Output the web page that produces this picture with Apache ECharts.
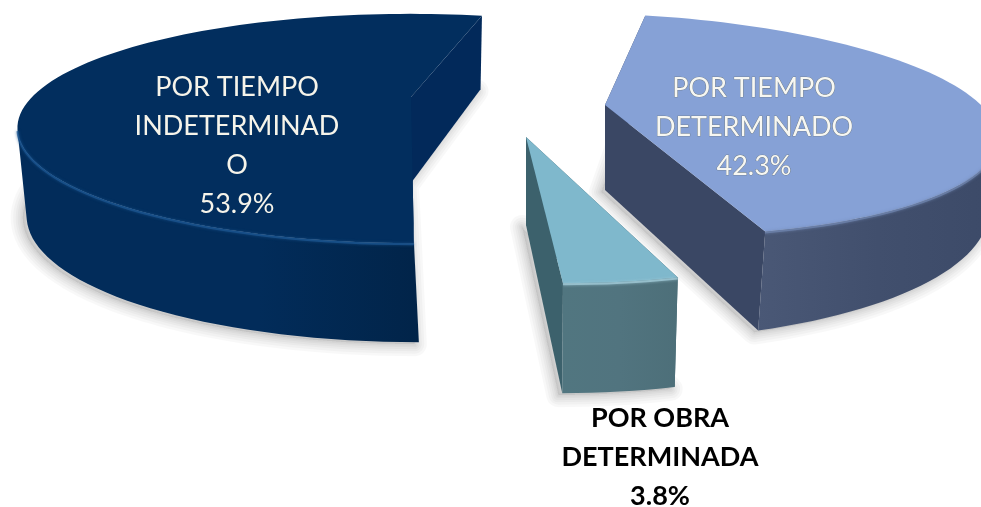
<!DOCTYPE html>
<html>
<head>
<meta charset="utf-8">
<style>html,body{margin:0;padding:0;background:#fff}#c{width:981px;height:507px}</style>
<script src="https://cdn.jsdelivr.net/npm/echarts@6/dist/echarts.min.js"></script>
</head>
<body>
<div id="c"></div>
<script>
const categories = ['POR TIEMPO\nINDETERMINAD\nO', 'POR TIEMPO\nDETERMINADO', 'POR OBRA\nDETERMINADA'];
const values = [53.9, 42.3, 3.8];
const startAngle = 90;

// per-slice drawing of the perspective pie (layout only; spans come from values)
const layouts = [
  {ax:411, ay:97,  rx:379, ry:106, p:.275, k:.02, d0:86, d1:13, d2:0,   bs:.02, bv:5,
   top:'#022e5e', cut:'#02295a', rim:[['#022c5a',0],['#022c5a',.6],['#012449',1]], hi:'#1c5590',
   text:'#f6f4ea', stroke:null, weight:400, lx:237, ly:146},
  {ax:605, ay:105, rx:376, ry:108, p:.175, k:.42, d0:85, d1:18.8, d2:-17.7, bs:.02, bv:-4,
   top:'#86a1d6', cut:'#3a4764', rim:[['#4a5876',0],['#414f6d',.5],['#3c4a68',1]], hi:'#6f84ad',
   text:'#f7f7f2', stroke:'rgba(80,80,50,.6)', weight:400, lx:754, ly:127},
  {ax:526, ay:137, rx:360, ry:106, p:.275, k:.253,d0:88, d1:22, d2:0,   bs:.02, bv:0,
   top:'#7fb8cc', cut:'#3c616c', rim:[['#517680',0],['#51747f',.5],['#4d6f79',1]], hi:'#a3ccd9',
   text:'#000000', stroke:null, weight:700, lx:660, ly:457}
];
const shadowWidths = [24, 19, 14, 10, 6, 3];

const total = values.reduce((a, b) => a + b, 0);
const starts = [];
values.reduce((acc, v, i) => { starts[i] = acc; return acc + v / total * 360; }, startAngle);

function topPoint(l, deg) {
  const t = deg * Math.PI / 180, u = Math.cos(t), v = Math.sin(t), s = 1 / (1 - l.p * v);
  const dy = l.ry * v * s;
  return {x: l.ax + l.rx * u * s + l.k * dy, y: l.ay + dy, u: u, v: v};
}
function lowerPoint(l, pt) {
  return [pt.x + l.bs * (l.ax - pt.x) + l.bv * Math.max(pt.v, 0),
          pt.y + l.d0 + l.d1 * pt.v + l.d2 * pt.u];
}
function renderItem(params, api) {
  const i = params.dataIndex, l = layouts[i];
  const a0 = starts[i], span = api.value(0) / total * 360;
  const arc = [];
  const n = Math.max(8, Math.ceil(span / 2));
  for (let j = 0; j <= n; j++) arc.push(topPoint(l, a0 + span * j / n));
  const apex = {x: l.ax, y: l.ay, u: 0, v: 0};
  const first = arc[0], last = arc[n];

  const visibleArc = arc.filter(pt => pt.v >= l.p);
  const rimPts = visibleArc.map(pt => [pt.x, pt.y]).concat(visibleArc.slice().reverse().map(pt => lowerPoint(l, pt)));
  const grad = new echarts.graphic.LinearGradient(0, 0, 1, 0, l.rim.map(c => ({offset: c[1], color: c[0]})));
  const wall = (a, b) => [[a.x, a.y], [b.x, b.y], lowerPoint(l, b), lowerPoint(l, a)];
  const base = [lowerPoint(l, apex)].concat(arc.map(pt => lowerPoint(l, pt)));

  const shadowLayers = shadowWidths.map(w => ({
    type: 'polygon', x: -4, y: 2, shape: {points: base},
    style: {fill: 'rgba(0,0,0,.01)', stroke: 'rgba(0,0,0,.028)', lineWidth: w, lineJoin: 'round'}
  }));
  const children = shadowLayers.concat([
    {type: 'polygon', shape: {points: wall(apex, first)}, style: {fill: l.cut}},
    {type: 'polygon', shape: {points: wall(apex, last)},  style: {fill: l.cut}},
    {type: 'polygon', shape: {points: rimPts}, style: {fill: grad}},
    {type: 'polygon', shape: {points: [[apex.x, apex.y]].concat(arc.map(pt => [pt.x, pt.y]))}, style: {fill: l.top}},
    {type: 'polyline', shape: {points: visibleArc.map(pt => [pt.x, pt.y + 1])},
     style: {fill: null, stroke: l.hi, lineWidth: 2, opacity: .75, shadowBlur: 3, shadowColor: l.hi}},
    {type: 'text', style: {
      text: api.value(1) + '\n' + api.value(0).toFixed(1) + '%',
      x: l.lx, y: l.ly, align: 'center', verticalAlign: 'middle',
      fill: l.text, stroke: l.stroke, lineWidth: l.stroke ? .7 : 0,
      fontFamily: 'Lato', fontSize: 27, fontWeight: l.weight, lineHeight: 39
    }}
  ]);
  return {type: 'group', children: children};
}

const chart = echarts.init(document.getElementById('c'), null, {renderer: 'canvas'});
chart.setOption({
  animation: false,
  backgroundColor: '#ffffff',
  series: [{
    type: 'custom',
    coordinateSystem: 'none',
    renderItem: renderItem,
    silent: true,
    encode: {value: 0},
    dimensions: [{name: 'value', type: 'number'}, {name: 'label', type: 'ordinal'}],
    data: values.map((v, i) => [v, categories[i]])
  }]
});
</script>
</body>
</html>
